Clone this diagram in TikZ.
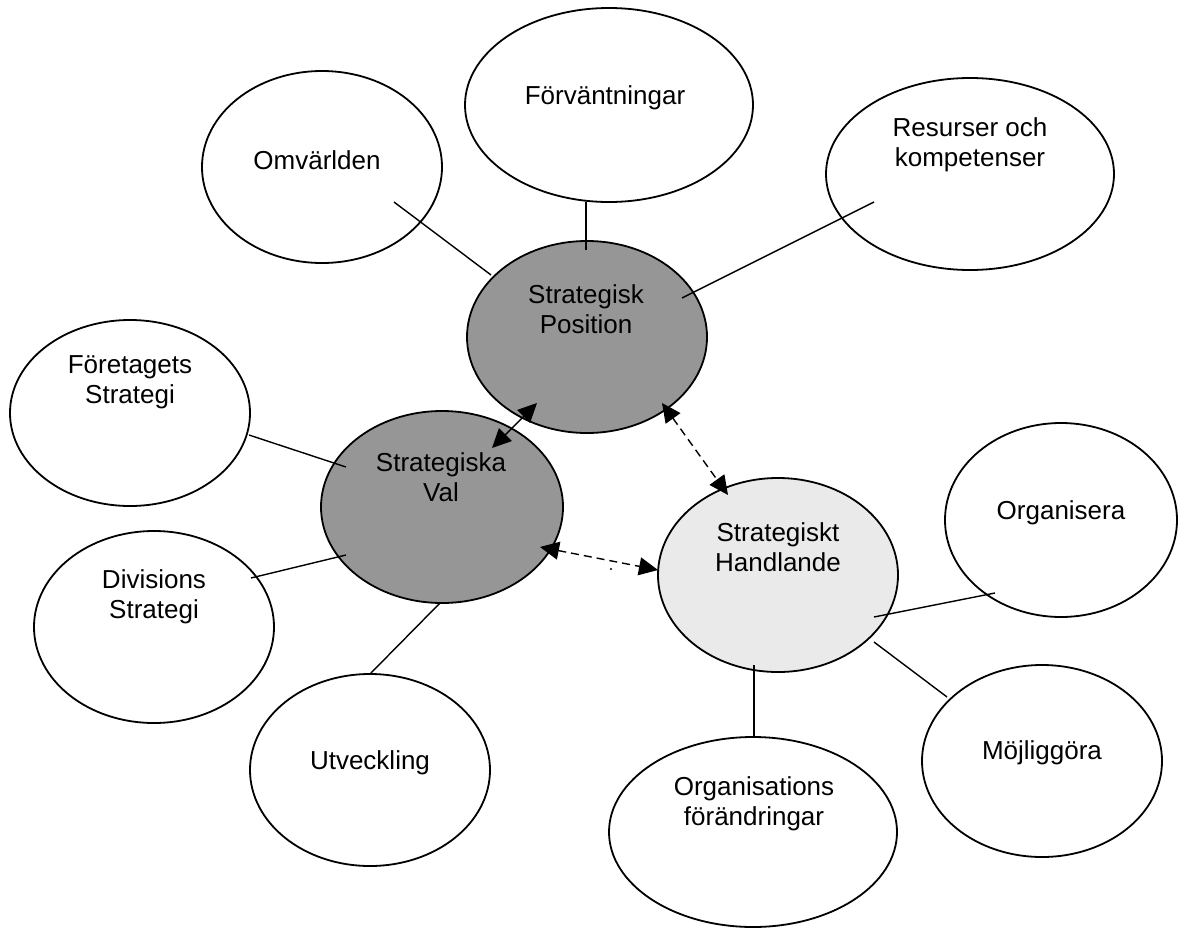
\documentclass[tikz,border=0pt]{standalone}
\usepackage{fontspec}
\setmainfont{Liberation Sans}
\usetikzlibrary{shapes.geometric,arrows.meta,calc}
\definecolor{darkgr}{HTML}{969696}
\definecolor{lightgr}{HTML}{EAEAEA}
\begin{document}
\begin{tikzpicture}[x=1pt,y=-1pt,
  bub/.style={ellipse, draw, line width=1.8pt, inner sep=0pt, fill=white},
  lbl/.style={font=\fontsize{26}{30}\selectfont, align=center, inner sep=0pt},
  con/.style={line width=1.4pt},
  dtip/.style={{Triangle[length=19pt,width=18pt]}-{Triangle[length=19pt,width=18pt]}},
  dsh/.style={dash pattern=on 8pt off 5pt}
]
\useasboundingbox (0,0) rectangle (1178,929);
\fill[white] (0,0) rectangle (1178,929);

% ellipses
\node[bub, minimum width=240pt, minimum height=192pt] (omv) at (322,167) {};
\node[bub, minimum width=288pt, minimum height=194pt] (forv) at (609,105) {};
\node[bub, minimum width=288pt, minimum height=192pt] (res) at (970,174) {};
\node[bub, fill=darkgr, minimum width=240pt, minimum height=192pt] (pos) at (587,337) {};
\node[bub, minimum width=240pt, minimum height=186pt] (fore) at (130,413) {};
\node[bub, fill=darkgr, minimum width=242pt, minimum height=192pt] (val) at (442,507) {};
\node[bub, minimum width=240pt, minimum height=192pt] (div) at (154,627) {};
\node[bub, minimum width=240pt, minimum height=192pt] (utv) at (370,770) {};
\node[bub, fill=lightgr, minimum width=240pt, minimum height=194pt] (hand) at (778,575) {};
\node[bub, minimum width=232pt, minimum height=194pt] (org) at (1061,520) {};
\node[bub, minimum width=240pt, minimum height=192pt] (moj) at (1042,761) {};
\node[bub, minimum width=288pt, minimum height=190pt] (orgf) at (753,832) {};

% labels
\node[lbl] (omv-t) at (317,160) {Omvärlden};
\node[lbl] (forv-t) at (605,98) {Förväntningar};
\node[lbl] (res-t) at (970,145) {Resurser och\\kompetenser};
\node[lbl] (pos-t) at (586,309) {Strategisk\\Position};
\node[lbl] (fore-t) at (130,382) {Företagets\\Strategi};
\node[lbl] (val-t) at (441,477) {Strategiska\\Val};
\node[lbl] (div-t) at (154,597) {Divisions\\Strategi};
\node[lbl] (utv-t) at (370,763) {Utveckling};
\node[lbl] (hand-t) at (778,547) {Strategiskt\\Handlande};
\node[lbl] (org-t) at (1061,513) {Organisera};
\node[lbl] (moj-t) at (1042,753) {Möjliggöra};
\node[lbl] (orgf-t) at (754,804) {Organisations\\förändringar};

% connectors
\draw[con] ($(omv)+(72,35)$) -- ($(pos)+(-96,-62)$);
\draw[con] ($(forv)+(-23,97)$) -- ($(pos)+(-1,-87)$);
\draw[con] ($(res)+(-96,28)$) -- ($(pos)+(95,-39)$);
\draw[con] ($(fore)+(119,22)$) -- ($(val)+(-96,-40)$);
\draw[con] ($(div)+(97,-49)$) -- ($(val)+(-96,48)$);
\draw[con] ($(utv)+(0,-96)$) -- ($(val)+(-2,96)$);
\draw[con] ($(hand)+(96,42)$) -- ($(org)+(-66,73)$);
\draw[con] ($(hand)+(96,67)$) -- ($(moj)+(-95,-64)$);
\draw[con] ($(hand)+(-24,90)$) -- ($(orgf)+(1,-95)$);

% arrows
\draw[con, dtip] ($(pos)+(-50,66)$) -- ($(val)+(50,-59)$);
\draw[con, dtip, dsh] ($(pos)+(75,66)$) -- ($(hand)+(-50,-80)$);
\draw[con, dtip, dsh] ($(val)+(98,40)$) -- ($(hand)+(-120,-5)$);
\fill (611,569) circle (1.2pt);
\end{tikzpicture}
\end{document}
